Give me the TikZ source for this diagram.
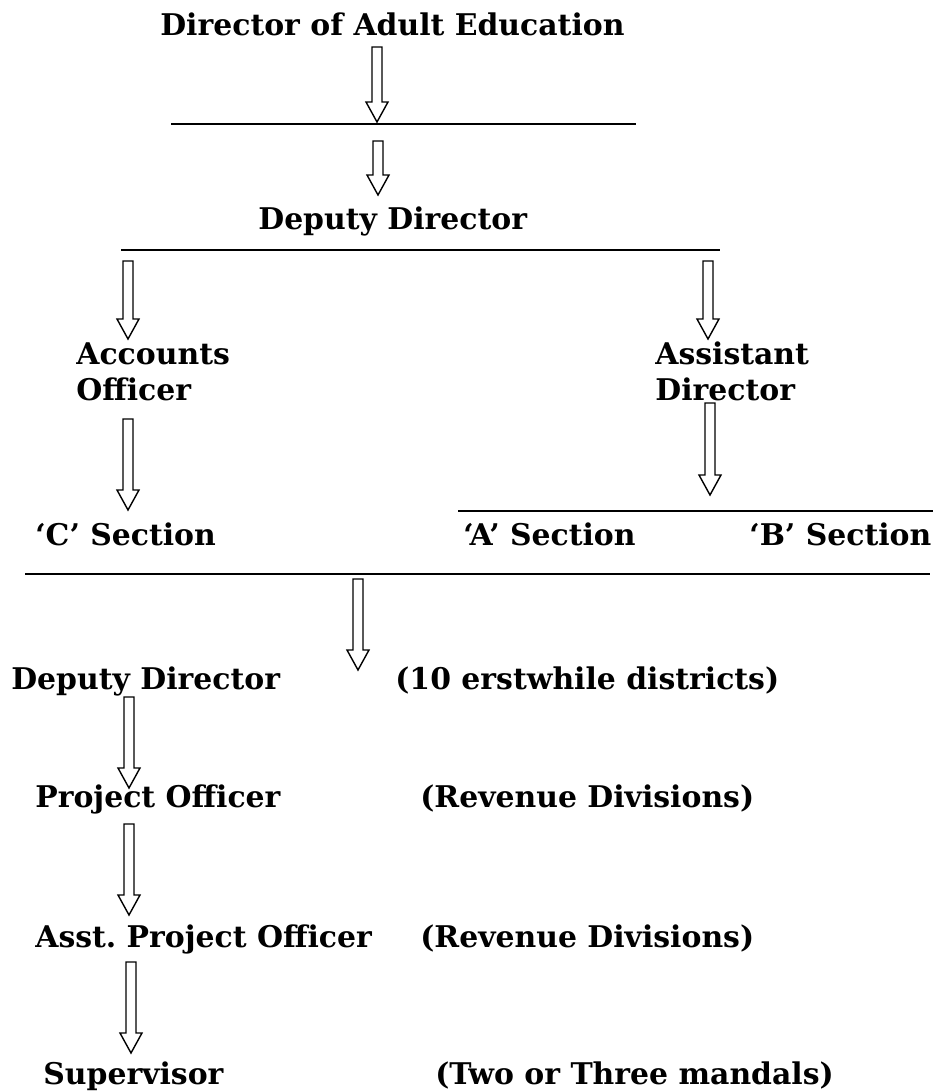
\documentclass[tikz,border=0pt]{standalone}
\usepackage{fontspec}
\setmainfont{DejaVu Serif}

\tikzset{
	label/.style={font=\bfseries\fontsize{17}{20.4}\selectfont, inner sep=0pt, anchor=base west, align=left},
	rule/.style={line width=1.3pt},
	hollow/.style={draw, fill=white, line width=0.8pt, line join=miter},
}
% hollow block arrow pointing down: x, top, tip
\newcommand{\blockdown}[3]{%
	\draw[hollow] (#1-5,#2) -- (#1+5,#2) -- (#1+5,#3-20) -- (#1+11,#3-20) -- (#1,#3) -- (#1-11,#3-20) -- (#1-5,#3-20) -- cycle;}

\begin{document}
\begin{tikzpicture}[x=0.02cm, y=-0.02cm]
	\useasboundingbox (0,0) rectangle (933,1092);
	% Head office
	\node[label] (dae) at (160,35) {Director of Adult Education};
	\blockdown{377}{47}{122}
	\draw[rule] (171,124) coordinate (r1a) -- (636,124) coordinate (r1b);
	\blockdown{378}{141}{195}
	\node[label] (dd) at (258,229) {Deputy Director};
	\draw[rule] (121,250) coordinate (r2a) -- (720,250) coordinate (r2b);
	% Two branches (base is on the last line)
	\blockdown{128}{261}{339}
	\blockdown{708}{261}{339}
	\node[label] (ao) at (76,400) {Accounts\\Officer};
	\node[label] (ad) at (655,400) {Assistant\\Director};
	\blockdown{128}{419}{510}
	\blockdown{710}{403}{495}
	\draw[rule] (458,511) coordinate (r3a) -- (933,511) coordinate (r3b);
	% Sections
	\node[label] (cs) at (35,545) {‘C’ Section};
	\node[label] (as) at (463,545) {‘A’ Section};
	\node[label] (bs) at (749,545) {‘B’ Section};
	\draw[rule] (25,574) coordinate (r4a) -- (930,574) coordinate (r4b);
	\blockdown{358}{579}{670}
	% Field offices
	\node[label] (ddd) at (11,689) {Deputy Director};
	\node[label] (erst) at (395,689) {(10 erstwhile districts)};
	\blockdown{129}{697}{788}
	\node[label] (po) at (35,807) {Project Officer};
	\node[label] (rev1) at (420,807) {(Revenue Divisions)};
	\blockdown{129}{824}{915}
	\node[label] (apo) at (35,947) {Asst.\ Project Officer};
	\node[label] (rev2) at (420,947) {(Revenue Divisions)};
	\blockdown{131}{962}{1053}
	\node[label] (sup) at (43,1084) {Supervisor};
	\node[label] (mand) at (435,1084) {(Two or Three mandals)};
\end{tikzpicture}
\end{document}
